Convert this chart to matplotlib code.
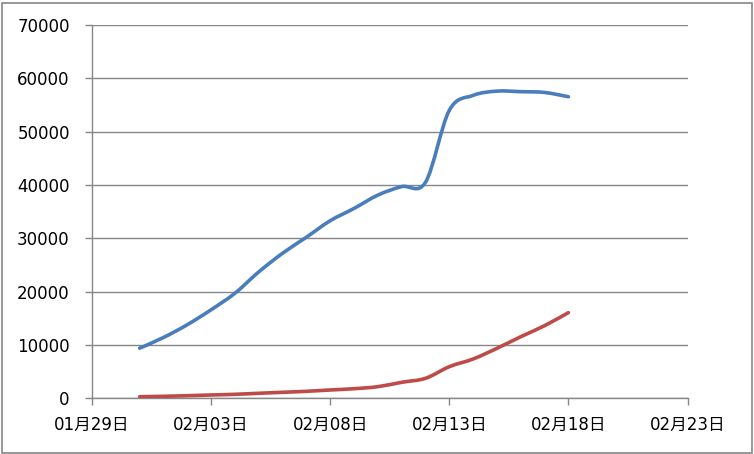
import numpy as np
import matplotlib
matplotlib.use('Agg')
import matplotlib.pyplot as plt
import matplotlib.dates as mdates
from matplotlib.path import Path
from matplotlib.patches import PathPatch, Rectangle

dates = ['2020-01-31', '2020-02-01', '2020-02-02', '2020-02-03', '2020-02-04',
         '2020-02-05', '2020-02-06', '2020-02-07', '2020-02-08', '2020-02-09',
         '2020-02-10', '2020-02-11', '2020-02-12', '2020-02-13', '2020-02-14',
         '2020-02-15', '2020-02-16', '2020-02-17', '2020-02-18']
blue_vals = [9400, 11400, 13800, 16600, 19700, 23700, 27200, 30200, 33300, 35600,
             38100, 39700, 40500, 54000, 56800, 57600, 57500, 57350, 56550]
red_vals = [300, 375, 490, 620, 750, 940, 1125, 1310, 1560, 1800,
            2180, 3000, 3750, 5930, 7370, 9370, 11550, 13620, 16060]

x_start = '2020-01-29'
x_end = '2020-02-23'
x_ticks = ['2020-01-29', '2020-02-03', '2020-02-08', '2020-02-13', '2020-02-18', '2020-02-23']
y_ticks = [0, 10000, 20000, 30000, 40000, 50000, 60000, 70000]

grey = '#868686'

# smooth line like excel (catmull-rom -> bezier)
def smooth_path(xs, ys):
    p = np.column_stack([xs, ys]).astype(float)
    verts = [p[0]]
    codes = [Path.MOVETO]
    n = len(p)
    for i in range(n - 1):
        p0 = p[i - 1] if i > 0 else p[i]
        p3 = p[i + 2] if i + 2 < n else p[i + 1]
        c1 = p[i] + (p[i + 1] - p0) / 6.0
        c2 = p[i + 1] - (p3 - p[i]) / 6.0
        verts += [c1, c2, p[i + 1]]
        codes += [Path.CURVE4] * 3
    return Path(verts, codes)

fig = plt.figure(figsize=(7.54, 4.54), dpi=100)
ax = fig.add_axes([92 / 754, 1 - 398.3 / 454, (687.5 - 92) / 754, (398.3 - 25) / 454])

xd = mdates.datestr2num(dates)
for vals, col in [(blue_vals, '#4A7EBB'), (red_vals, '#BE4B48')]:
    ax.add_patch(PathPatch(smooth_path(xd, vals), fill=False, edgecolor=col,
                           lw=2.6, capstyle='round', joinstyle='round', zorder=3))

ax.set_xlim(mdates.datestr2num(x_start), mdates.datestr2num(x_end))
ax.set_ylim(0, 70000)
ax.set_yticks(y_ticks)
ax.set_xticks(mdates.datestr2num(x_ticks))
ax.xaxis.set_major_formatter(mdates.DateFormatter('%m月%d日'))

ax.grid(axis='y', color=grey, lw=1.0)
ax.set_axisbelow(True)
for s in ['top', 'right']:
    ax.spines[s].set_visible(False)
for s in ['left', 'bottom']:
    ax.spines[s].set_color(grey)
    ax.spines[s].set_linewidth(1.0)
ax.tick_params(axis='both', colors=grey, length=5, width=1.0)
ax.tick_params(axis='y', pad=11)
ax.tick_params(axis='x', pad=8)
for lab in ax.get_xticklabels() + ax.get_yticklabels():
    lab.set_color('black')
    lab.set_fontsize(12)
    lab.set_family(['DejaVu Sans', 'Noto Sans CJK SC'])

fig.patches.append(Rectangle((1.5 / 754, 1.5 / 454), 750 / 754, 450 / 454,
                             transform=fig.transFigure, fill=False,
                             edgecolor=grey, lw=1.2))

fig.savefig('out.png', dpi=100)
